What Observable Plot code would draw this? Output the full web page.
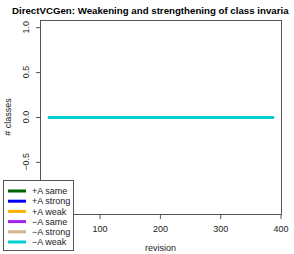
<!DOCTYPE html>
<html><head><meta charset="utf-8">
<script src="https://cdn.jsdelivr.net/npm/d3@7"></script>
<script src="https://cdn.jsdelivr.net/npm/@observablehq/plot@0.6"></script>
<style>body{margin:0;background:#fff} #chart{width:294px;height:254px}</style>
</head><body><div id="chart"></div>
<script>
const revisions = [16, 386];
const seriesNames = ["+A same", "+A strong", "+A weak", "\u2212A same", "\u2212A strong", "\u2212A weak"];
const seriesColors = ["#006400", "#0000FF", "#FFB000", "#A020F0", "#D2B48C", "#00CED1"];
const plusSame = [0, 0];
const plusStrong = [0, 0];
const plusWeak = [0, 0];
const minusSame = [0, 0];
const minusStrong = [0, 0];
const minusWeak = [0, 0];
const xTicks = [100, 200, 300, 400];
const yTicks = [-1, -0.5, 0, 0.5, 1];
const titleText = "DirectVCGen: Weakening and strengthening of class invaria";
const xLabel = "revision";
const yLabel = "# classes";

const seriesValues = [plusSame, plusStrong, plusWeak, minusSame, minusStrong, minusWeak];
const rows = [];
seriesValues.forEach((vals, s) => vals.forEach((v, i) => rows.push({revision: revisions[i], value: v, series: seriesNames[s]})));

const W = 294, H = 254, mL = 40, mR = 13, mT = 20, mB = 40;
const xmin = d3.min(revisions), xmax = d3.max(revisions);
const xd = [xmin - 0.04 * (xmax - xmin), xmax + 0.04 * (xmax - xmin)];
const allV = rows.map(d => d.value);
let ylo = d3.min(allV), yhi = d3.max(allV);
if (ylo === yhi) { ylo -= 1; yhi += 1; }
const yd = [ylo - 0.04 * (yhi - ylo), yhi + 0.04 * (yhi - ylo)];
const fmt = v => (v < 0 ? "\u2212" : "") + Math.abs(v).toFixed(1);
const font = "'Liberation Sans', Arial, Helvetica, sans-serif";

const plot = Plot.plot({
  width: W, height: H, marginLeft: mL, marginRight: mR, marginTop: mT, marginBottom: mB,
  style: {fontFamily: font, fontSize: "9px", background: "white", color: "#000"},
  x: {domain: xd},
  y: {domain: yd},
  color: {domain: seriesNames, range: seriesColors},
  marks: [
    Plot.line(rows, {x: "revision", y: "value", z: "series", stroke: "series", strokeWidth: 3}),
    Plot.frame({stroke: "#555", strokeWidth: 1}),
    Plot.axisX({ticks: xTicks, tickSize: 5, tickPadding: 6, label: null, stroke: "#555", fill: "#222"}),
    Plot.axisY({ticks: yTicks, tickFormat: null, text: null, tickSize: 4, label: null, stroke: "#555"}),
    Plot.ruleY([yd[0]], {x1: xTicks[0], x2: xTicks[xTicks.length - 1], stroke: "#555"})
  ]
});
document.getElementById("chart").appendChild(plot);

const svg = d3.select(plot);
const ys = plot.scale("y");
const yl = svg.append("g");
yTicks.forEach(t => {
  yl.append("text").attr("transform", `translate(29,${ys.apply(t)}) rotate(-90)`)
    .attr("text-anchor", "middle").attr("font-family", font).attr("font-size", "9px")
    .attr("fill", "#222").text(fmt(t));
});
const cx = mL + (W - mL - mR) / 2;
const cy = mT + (H - mT - mB) / 2;
svg.append("text").attr("x", 12).attr("y", 14).attr("text-anchor", "start")
  .attr("font-family", font).attr("font-weight", "bold").attr("font-size", "9.7px").attr("fill", "#000").text(titleText);
svg.append("text").attr("x", cx).attr("y", 251).attr("text-anchor", "middle")
  .attr("font-family", font).attr("font-size", "9px").attr("fill", "#222").text(xLabel);
svg.append("text").attr("transform", `translate(11,${cy}) rotate(-90)`).attr("text-anchor", "middle")
  .attr("font-family", font).attr("font-size", "9px").attr("fill", "#222").text(yLabel);

const lg = svg.append("g");
lg.append("rect").attr("x", 3.5).attr("y", 180.5).attr("width", 70).attr("height", 70)
  .attr("fill", "white").attr("stroke", "#555");
seriesNames.forEach((n, i) => {
  const y = 191 + i * 10.2;
  lg.append("line").attr("x1", 8).attr("x2", 26).attr("y1", y).attr("y2", y)
    .attr("stroke", seriesColors[i]).attr("stroke-width", 3);
  lg.append("text").attr("x", 32).attr("y", y).attr("dy", "0.35em").attr("text-anchor", "start")
    .attr("font-family", font).attr("font-size", "9px").attr("fill", "#222").text(n);
});
</script></body></html>
